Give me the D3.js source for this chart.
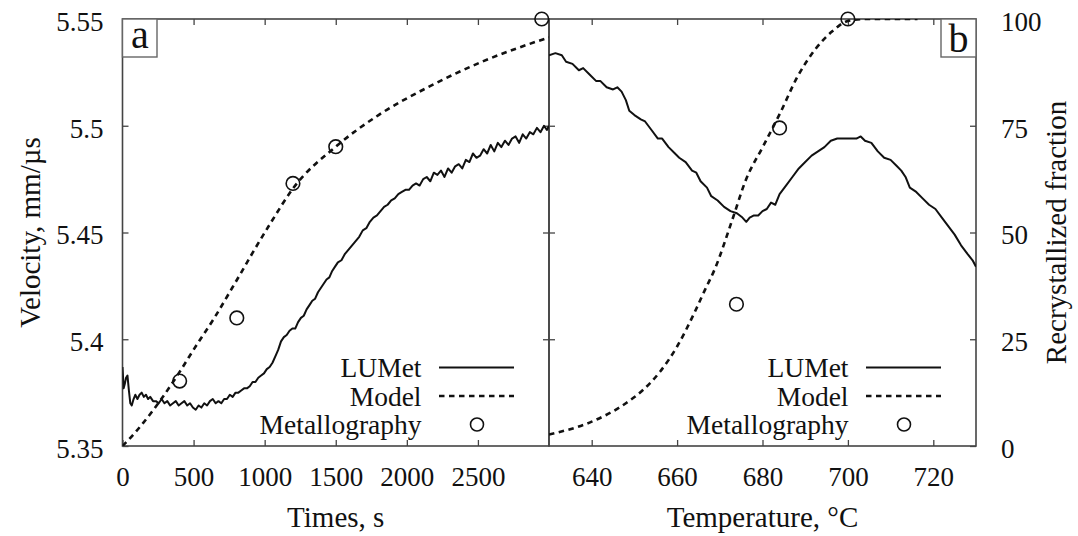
<!DOCTYPE html>
<html>
<head>
    <meta charset="UTF-8">
    <title>LUMet velocity and recrystallization</title>
    <script src="https://d3js.org/d3.v7.min.js"></script>
    <style>
        body { margin: 0; background: #fff; }
        svg text { font-family: "Liberation Serif", "Times New Roman", serif; fill: #111; }
    </style>
</head>
<body>
    <div id="chart"></div>
    <script>
        // panel a: velocity vs time (LUMet)
        const timeLU = [0, 8, 16, 25, 35, 45, 55, 65, 78, 90, 105, 120, 135, 150, 165, 180, 195, 215, 235, 255, 275, 295, 315, 335, 355, 375, 395, 415, 435, 455, 475, 495, 515, 535, 555, 575, 595, 615, 635, 655, 675, 695, 715, 735, 755, 775, 795, 815, 835, 855, 875, 895, 915, 935, 955, 975, 995, 1015, 1035, 1055, 1075, 1095, 1115, 1135, 1155, 1175, 1195, 1215, 1235, 1255, 1275, 1295, 1315, 1335, 1355, 1375, 1395, 1415, 1435, 1455, 1475, 1495, 1515, 1540, 1565, 1590, 1615, 1640, 1665, 1690, 1715, 1740, 1765, 1790, 1815, 1840, 1865, 1890, 1915, 1940, 1965, 1990, 2015, 2040, 2065, 2090, 2115, 2140, 2165, 2190, 2215, 2240, 2265, 2290, 2315, 2340, 2365, 2390, 2415, 2440, 2465, 2490, 2515, 2540, 2565, 2590, 2615, 2640, 2665, 2690, 2715, 2740, 2765, 2790, 2815, 2840, 2865, 2890, 2915, 2940, 2965, 2985, 3000];
        const velLU = [5.387, 5.377, 5.379, 5.382, 5.383, 5.376, 5.370, 5.369, 5.372, 5.374, 5.372, 5.374, 5.375, 5.373, 5.374, 5.372, 5.373, 5.371, 5.371, 5.370, 5.372, 5.370, 5.371, 5.369, 5.370, 5.371, 5.369, 5.370, 5.371, 5.369, 5.370, 5.368, 5.367, 5.369, 5.368, 5.370, 5.369, 5.371, 5.372, 5.370, 5.371, 5.370, 5.372, 5.372, 5.374, 5.373, 5.375, 5.375, 5.376, 5.377, 5.377, 5.378, 5.380, 5.380, 5.382, 5.383, 5.384, 5.386, 5.387, 5.389, 5.392, 5.395, 5.399, 5.401, 5.402, 5.404, 5.405, 5.405, 5.408, 5.410, 5.411, 5.414, 5.416, 5.418, 5.419, 5.422, 5.424, 5.426, 5.428, 5.429, 5.432, 5.434, 5.436, 5.437, 5.440, 5.442, 5.444, 5.446, 5.448, 5.451, 5.452, 5.455, 5.457, 5.458, 5.460, 5.462, 5.463, 5.465, 5.466, 5.468, 5.469, 5.470, 5.470, 5.472, 5.473, 5.472, 5.475, 5.476, 5.474, 5.478, 5.477, 5.479, 5.476, 5.480, 5.478, 5.481, 5.482, 5.480, 5.484, 5.483, 5.487, 5.485, 5.486, 5.489, 5.487, 5.491, 5.488, 5.492, 5.490, 5.493, 5.491, 5.494, 5.495, 5.492, 5.496, 5.494, 5.497, 5.496, 5.499, 5.497, 5.500, 5.498, 5.500];

        // panel a: model and metallography, recrystallized fraction (%)
        const timeModel = [0, 18, 143, 269, 395, 520, 646, 771, 847, 897, 1047, 1199, 1500, 1801, 2153, 2530, 3000];
        const fracModelA = [0, 0.6, 5.3, 10.8, 17.0, 23.6, 30.0, 37.0, 41.3, 44.2, 52.5, 60.3, 70.1, 77.5, 84.1, 90.0, 95.7];
        const timeMet = [402, 804, 1199, 1500, 2949];
        const fracMetA = [15.2, 30.0, 61.5, 70.1, 100];

        // panel b: velocity vs temperature (LUMet)
        const tempLU = [630, 631.5, 633, 634, 635.5, 637, 638, 639.5, 641, 642, 643.5, 645, 646, 647, 648, 648.8, 650, 651.5, 652.5, 654, 655.5, 656.5, 658, 659.5, 660.5, 662, 663.5, 664.5, 665.5, 667, 668, 669.5, 671, 672.5, 674, 675.3, 676.2, 677, 678, 679, 680, 681, 682, 683, 684, 685.5, 687, 688.5, 690, 691.5, 693, 694.5, 696, 697.5, 699, 700.5, 702, 703, 704, 705.5, 707, 708.5, 710, 711.5, 712.5, 713.5, 714.5, 716, 717.5, 719, 720.5, 722, 723.5, 725, 726.5, 728, 729.2, 730];
        const velLUb = [5.533, 5.534, 5.533, 5.530, 5.529, 5.526, 5.527, 5.524, 5.521, 5.521, 5.518, 5.517, 5.518, 5.516, 5.512, 5.507, 5.505, 5.503, 5.502, 5.498, 5.494, 5.494, 5.490, 5.487, 5.485, 5.483, 5.479, 5.478, 5.474, 5.471, 5.467, 5.465, 5.462, 5.460, 5.459, 5.457, 5.455, 5.457, 5.458, 5.458, 5.460, 5.461, 5.464, 5.463, 5.468, 5.472, 5.476, 5.480, 5.483, 5.486, 5.488, 5.490, 5.493, 5.494, 5.494, 5.494, 5.494, 5.495, 5.493, 5.492, 5.488, 5.485, 5.484, 5.481, 5.479, 5.476, 5.471, 5.469, 5.466, 5.463, 5.461, 5.457, 5.453, 5.449, 5.444, 5.440, 5.437, 5.434];

        // panel b: model and metallography
        const tempModel = [630, 640, 648, 652, 656, 660, 664, 666.5, 668.9, 672.9, 676.1, 680.1, 684.1, 688.2, 692.2, 696.2, 700.2, 704.2, 716.3];
        const fracModelB = [2.7, 5.7, 10.0, 13.1, 17.4, 23.3, 31.1, 36.5, 41.6, 52.9, 62.3, 70.1, 77.9, 86.5, 92.7, 97.0, 99.6, 100, 100];
        const tempMet = [673.9, 684.0, 700.0];
        const fracMetB = [33.2, 74.5, 100];

        // tick labels
        const timeTicks = [0, 500, 1000, 1500, 2000, 2500];
        const tempTicks = [640, 660, 680, 700, 720];
        const velTicks = [5.35, 5.4, 5.45, 5.5, 5.55];
        const fracTicks = [0, 25, 50, 75, 100];
        const legendNames = ["LUMet", "Model", "Metallography"];

        const width = 1078;
        const height = 536;
        const plotTop = 19, plotBottom = 446;
        const aLeft = 122.5, mid = 549, bRight = 976;

        const svg = d3.select("#chart")
            .append("svg")
            .attr("width", width)
            .attr("height", height);

        const xA = d3.scaleLinear().domain([0, 3000]).range([aLeft, mid]);
        const xB = d3.scaleLinear().domain([630, 730]).range([mid, bRight]);
        const yV = d3.scaleLinear().domain([5.35, 5.55]).range([plotBottom, plotTop]);
        const yF = d3.scaleLinear().domain([0, 100]).range([plotBottom, plotTop]);

        const frameColor = "#444";
        const noLabel = () => "";
        const plain = d => String(d);

        function drawAxis(axis, tx, ty, fontSize) {
            const g = svg.append("g")
                .attr("transform", `translate(${tx},${ty})`)
                .call(axis.tickSizeInner(-6).tickSizeOuter(0));
            g.select(".domain").remove();
            g.selectAll(".tick line").attr("stroke", frameColor).attr("stroke-width", 1.3);
            g.selectAll(".tick text")
                .attr("fill", "#111")
                .style("font-family", "'Liberation Serif', 'Times New Roman', serif")
                .style("font-size", fontSize + "px");
            return g;
        }

        // panel a axes
        drawAxis(d3.axisBottom(xA).tickValues(timeTicks).tickPadding(21).tickFormat(plain), 0, plotBottom, 27);
        drawAxis(d3.axisTop(xA).tickValues(timeTicks.slice(1)).tickFormat(noLabel), 0, plotTop, 27);
        drawAxis(d3.axisLeft(yV).tickValues(velTicks).tickPadding(19).tickFormat(plain), aLeft, 0, 27)
            .selectAll(".tick text").attr("dy", "0.42em");
        drawAxis(d3.axisRight(yV).tickValues(velTicks.slice(1, 4)).tickFormat(noLabel), mid, 0, 27)
            .selectAll(".tick line").attr("x2", -6);

        // panel b axes
        drawAxis(d3.axisBottom(xB).tickValues(tempTicks).tickPadding(21).tickFormat(plain), 0, plotBottom, 27);
        drawAxis(d3.axisTop(xB).tickValues(tempTicks).tickFormat(noLabel), 0, plotTop, 27);
        drawAxis(d3.axisLeft(yV).tickValues(velTicks.slice(1, 4)).tickFormat(noLabel), mid, 0, 27)
            .selectAll(".tick line").attr("x2", 6);
        drawAxis(d3.axisRight(yF).tickValues(fracTicks).tickPadding(25).tickFormat(plain), bRight, 0, 27)
            .selectAll(".tick text").attr("dy", "0.42em");

        // frames
        svg.append("rect")
            .attr("x", aLeft).attr("y", plotTop)
            .attr("width", mid - aLeft).attr("height", plotBottom - plotTop)
            .attr("fill", "none").attr("stroke", frameColor).attr("stroke-width", 1.6);
        svg.append("rect")
            .attr("x", mid).attr("y", plotTop)
            .attr("width", bRight - mid).attr("height", plotBottom - plotTop)
            .attr("fill", "none").attr("stroke", frameColor).attr("stroke-width", 1.6);

        // clip paths
        const defs = svg.append("defs");
        defs.append("clipPath").attr("id", "clipA")
            .append("rect").attr("x", aLeft).attr("y", plotTop).attr("width", mid - aLeft).attr("height", plotBottom - plotTop);
        defs.append("clipPath").attr("id", "clipB")
            .append("rect").attr("x", mid).attr("y", plotTop).attr("width", bRight - mid).attr("height", plotBottom - plotTop);

        const luA = timeLU.map((t, i) => [t, velLU[i]]);
        const modA = timeModel.map((t, i) => [t, fracModelA[i]]);
        const metA = timeMet.map((t, i) => [t, fracMetA[i]]);
        const luB = tempLU.map((t, i) => [t, velLUb[i]]);
        const modB = tempModel.map((t, i) => [t, fracModelB[i]]);
        const metB = tempMet.map((t, i) => [t, fracMetB[i]]);

        function drawPanel(x, lu, mod, met, clip) {
            const g = svg.append("g").attr("clip-path", `url(#${clip})`);
            g.append("path")
                .datum(lu)
                .attr("fill", "none")
                .attr("stroke", "#111")
                .attr("stroke-width", 2)
                .attr("stroke-linejoin", "round")
                .attr("d", d3.line().x(d => x(d[0])).y(d => yV(d[1])));
            g.append("path")
                .datum(mod)
                .attr("fill", "none")
                .attr("stroke", "#111")
                .attr("stroke-width", 2.6)
                .attr("stroke-dasharray", "5.5,4.5")
                .attr("d", d3.line().curve(d3.curveMonotoneX).x(d => x(d[0])).y(d => yF(d[1])));
            svg.append("g").selectAll("circle")
                .data(met)
                .enter()
                .append("circle")
                .attr("cx", d => x(d[0]))
                .attr("cy", d => yF(d[1]))
                .attr("r", 6.8)
                .attr("fill", "none")
                .attr("stroke", "#111")
                .attr("stroke-width", 1.6);
        }

        drawPanel(xA, luA, modA, metA, "clipA");
        drawPanel(xB, luB, modB, metB, "clipB");

        // legends
        const rowY = [367.5, 396, 424.5];
        function drawLegend(right) {
            const g = svg.append("g");
            g.selectAll("text")
                .data(legendNames)
                .enter()
                .append("text")
                .attr("x", right - 127.5)
                .attr("y", (d, i) => rowY[i] + 9.5)
                .attr("text-anchor", "end")
                .style("font-size", "27.5px")
                .text(d => d);
            g.append("line")
                .attr("x1", right - 110).attr("x2", right - 35)
                .attr("y1", rowY[0]).attr("y2", rowY[0])
                .attr("stroke", "#111").attr("stroke-width", 2.2);
            g.append("line")
                .attr("x1", right - 110).attr("x2", right - 35)
                .attr("y1", rowY[1]).attr("y2", rowY[1])
                .attr("stroke", "#111").attr("stroke-width", 2.6)
                .attr("stroke-dasharray", "5.5,4.5");
            g.append("circle")
                .attr("cx", right - 72).attr("cy", rowY[2])
                .attr("r", 6.5)
                .attr("fill", "none").attr("stroke", "#111").attr("stroke-width", 1.6);
        }
        drawLegend(mid);
        drawLegend(bRight);

        // panel labels
        svg.append("rect").attr("x", aLeft).attr("y", plotTop).attr("width", 34.5).attr("height", 38)
            .attr("fill", "#fff").attr("stroke", "#666").attr("stroke-width", 1.4);
        svg.append("text").attr("x", 140).attr("y", 47.5).attr("text-anchor", "middle")
            .style("font-size", "40px").text("a");
        svg.append("rect").attr("x", bRight - 35).attr("y", plotTop).attr("width", 35).attr("height", 38)
            .attr("fill", "#fff").attr("stroke", "#666").attr("stroke-width", 1.4);
        svg.append("text").attr("x", 958.5).attr("y", 51.5).attr("text-anchor", "middle")
            .style("font-size", "40px").text("b");

        // axis titles
        svg.append("text")
            .attr("x", (aLeft + mid) / 2).attr("y", 527)
            .attr("text-anchor", "middle")
            .style("font-size", "29px")
            .text("Times, s");
        svg.append("text")
            .attr("x", (mid + bRight) / 2).attr("y", 527)
            .attr("text-anchor", "middle")
            .style("font-size", "29px")
            .text("Temperature, °C");
        svg.append("text")
            .attr("transform", `translate(40,${(plotTop + plotBottom) / 2}) rotate(-90)`)
            .attr("text-anchor", "middle")
            .style("font-size", "29px")
            .text("Velocity, mm/µs");
        svg.append("text")
            .attr("transform", `translate(1066,${(plotTop + plotBottom) / 2}) rotate(-90)`)
            .attr("text-anchor", "middle")
            .style("font-size", "29px")
            .text("Recrystallized fraction");
    </script>
</body>
</html>
